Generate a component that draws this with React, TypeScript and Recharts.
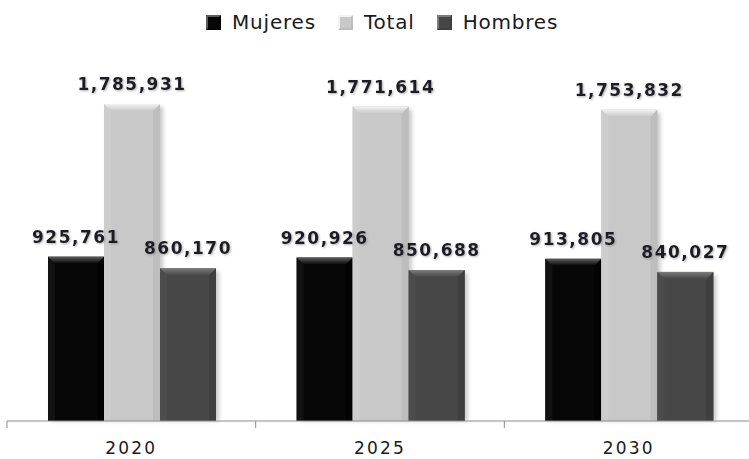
import { BarChart, Bar, XAxis, YAxis, Legend, LabelList } from 'recharts';

const years = ['2020', '2025', '2030'];
const mujeres = [925761, 920926, 913805];
const total = [1785931, 1771614, 1753832];
const hombres = [860170, 850688, 840027];

const chartData = years.map((year, i) => ({
  year,
  mujeres: mujeres[i],
  total: total[i],
  hombres: hombres[i],
}));

const CHART_W = 753;
const CHART_H = 459;
const MARGIN = { top: 22, right: 0, left: 7, bottom: 0 };
const BAND_HALF = (CHART_W - MARGIN.left - MARGIN.right) / years.length / 2;

const tones = {
  mujeres: { base: '#070707', top: '#5c5c5c', left: '#121212', right: '#030303' },
  total: { base: '#c8c8c8', top: '#f2f2f2', left: '#cdcdcd', right: '#bdbdbd' },
  hombres: { base: '#474747', top: '#7c7c7c', left: '#4c4c4c', right: '#3f3f3f' },
};

type Tone = (typeof tones)['total'];

function BevelBar(props: any) {
  const { x, y, width, height, tone, id } = props as {
    x: number; y: number; width: number; height: number; tone: Tone; id: string;
  };
  if (!height || height <= 0) return null;
  const b = 7;
  return (
    <g>
      <rect x={x + 3} y={y + 3} width={width} height={height - 3} fill="#000" opacity={0.22} filter="url(#barShadow)" />
      <rect x={x} y={y} width={width} height={height} fill={tone.base} />
      <polygon
        points={`${x},${y} ${x + b},${y + b} ${x + b},${y + height} ${x},${y + height}`}
        fill={tone.left}
      />
      <polygon
        points={`${x + width},${y} ${x + width - b},${y + b} ${x + width - b},${y + height} ${x + width},${y + height}`}
        fill={tone.right}
      />
      <polygon
        points={`${x},${y} ${x + width},${y} ${x + width - b},${y + b} ${x + b},${y + b}`}
        fill={`url(#top-${id})`}
      />
    </g>
  );
}

function YearTick(props: any) {
  const { x, y, payload } = props;
  const half = payload && typeof payload.offset === 'number' && payload.offset > 0 ? payload.offset : BAND_HALF;
  const axisY = y - 24;
  return (
    <g>
      <line x1={x - half} x2={x - half} y1={axisY} y2={axisY + 7} stroke="#8c8c8c" strokeWidth={1} />
      <text
        x={x}
        y={axisY + 33}
        textAnchor="middle"
        fontFamily="'DejaVu Sans', Verdana, sans-serif"
        fontSize={17}
        letterSpacing={2.2}
        fill="#1b1b1b"
      >
        {payload.value}
      </text>
    </g>
  );
}

const legendItems = [
  { label: 'Mujeres', tone: tones.mujeres },
  { label: 'Total', tone: tones.total },
  { label: 'Hombres', tone: tones.hombres },
];

function ChartLegend() {
  return (
    <div
      style={{
        height: 44,
        display: 'flex',
        alignItems: 'center',
        paddingLeft: 206,
        gap: 22,
        fontFamily: "'DejaVu Sans', Verdana, sans-serif",
        fontSize: 20,
        letterSpacing: 0.8,
        color: '#1b1b1b',
      }}
    >
      {legendItems.map((item) => (
        <div key={item.label} style={{ display: 'flex', alignItems: 'center' }}>
          <span
            style={{
              width: 11,
              height: 11,
              marginRight: 11,
              background: item.tone.base,
              border: `2px solid ${item.tone.top}`,
              borderBottomColor: item.tone.right,
              borderRightColor: item.tone.right,
            }}
          />
          {item.label}
        </div>
      ))}
    </div>
  );
}

function ValueLabel(props: any) {
  const { x, y, width, value } = props;
  return (
    <text
      x={x + width / 2}
      y={y - 14}
      textAnchor="middle"
      fontFamily="'DejaVu Sans', Verdana, sans-serif"
      fontWeight="bold"
      fontSize={17}
      letterSpacing={1.5}
      fill="#1c1c24"
      filter="url(#labelShadow)"
    >
      {Number(value).toLocaleString('en-US')}
    </text>
  );
}

export default function App() {
  return (
    <div style={{ position: 'absolute', top: 0, left: 0, width: 749, height: CHART_H, overflow: 'hidden', background: '#fff' }}>
      <BarChart
        width={CHART_W}
        height={CHART_H}
        data={chartData}
        margin={MARGIN}
        barCategoryGap={41}
        barGap={0}
      >
        <defs>
          <filter id="barShadow" x="-20%" y="-20%" width="140%" height="140%">
            <feGaussianBlur stdDeviation="2" />
          </filter>
          <filter id="labelShadow" x="-10%" y="-30%" width="120%" height="160%">
            <feDropShadow dx="1" dy="1" stdDeviation="1" floodColor="#7a7a7a" floodOpacity="0.6" />
          </filter>
          {Object.entries(tones).map(([key, tone]) => (
            <linearGradient key={key} id={`top-${key}`} x1="0" y1="0" x2="0" y2="1">
              <stop offset="0%" stopColor={tone.top} />
              <stop offset="100%" stopColor={tone.base} />
            </linearGradient>
          ))}
        </defs>
        <Legend verticalAlign="top" wrapperStyle={{ top: 0, left: 0 }} content={() => <ChartLegend />} />
        <XAxis
          dataKey="year"
          height={38}
          axisLine={{ stroke: '#8c8c8c' }}
          tickLine={false}
          tickSize={7}
          tickMargin={17}
          tick={<YearTick />}
          interval={0}
        />
        <YAxis hide domain={[0, 2000000]} />
        <Bar
          dataKey="mujeres"
          isAnimationActive={false}
          shape={(p: any) => <BevelBar {...p} tone={tones.mujeres} id="mujeres" />}
        >
          <LabelList dataKey="mujeres" content={<ValueLabel />} />
        </Bar>
        <Bar
          dataKey="total"
          isAnimationActive={false}
          shape={(p: any) => <BevelBar {...p} tone={tones.total} id="total" />}
        >
          <LabelList dataKey="total" content={<ValueLabel />} />
        </Bar>
        <Bar
          dataKey="hombres"
          isAnimationActive={false}
          shape={(p: any) => <BevelBar {...p} tone={tones.hombres} id="hombres" />}
        >
          <LabelList dataKey="hombres" content={<ValueLabel />} />
        </Bar>
      </BarChart>
    </div>
  );
}
